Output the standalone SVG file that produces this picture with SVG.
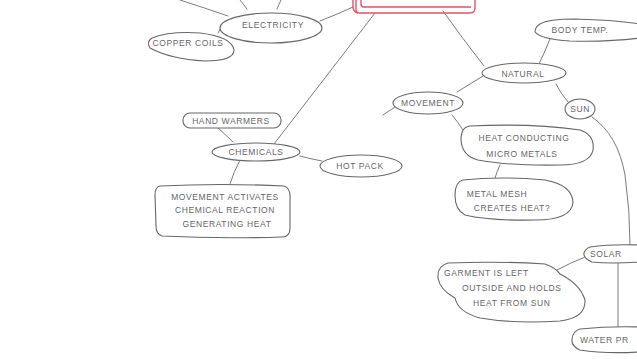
<svg xmlns="http://www.w3.org/2000/svg" width="637" height="359" viewBox="0 0 637 359">
<style>
.ln{fill:none;stroke:#7c7c7c;stroke-width:1;stroke-linecap:round;stroke-linejoin:round}
.nd{fill:#ffffff;stroke:#676767;stroke-width:1.1}
.tx{font-family:"Liberation Sans",Arial,sans-serif;font-size:8.5px;fill:#666;letter-spacing:0.6px;text-anchor:middle}
.txl{font-family:"Liberation Sans",Arial,sans-serif;font-size:8.5px;fill:#666;letter-spacing:0.6px}
.red{fill:none;stroke:#e8506a;stroke-width:1.4}
</style>
<rect width="637" height="359" fill="#ffffff"/>
<g id="connectors">
<path class="ln" d="M180,0 Q205,8 228,16"/>
<path class="ln" d="M240,0 Q244,5 247,9"/>
<path class="ln" d="M281,0 Q279,4 277,9"/>
<path class="ln" d="M320,21 Q338,14 353,7"/>
<path class="ln" d="M223,25 Q220,29 218,33"/>
<path class="ln" d="M375,13 L274,144"/>
<path class="ln" d="M443,11 Q462,38 484,66"/>
<path class="ln" d="M550,39 Q544,54 538,66"/>
<path class="ln" d="M556,84 Q561,94 568,102"/>
<path class="ln" d="M592,117 Q618,135 625,175 Q630,210 630,245"/>
<path class="ln" d="M483,76 Q470,84 457,92"/>
<path class="ln" d="M395,107 Q389,111 383,115"/>
<path class="ln" d="M452,115 Q458,122 463,130"/>
<path class="ln" d="M500,165 Q497,171 495,178"/>
<path class="ln" d="M585,257 Q570,263 557,270"/>
<path class="ln" d="M618,262 L618,328"/>
<path class="ln" d="M218,128 Q226,135 233,142"/>
<path class="ln" d="M300,156 Q311,159 322,161"/>
<path class="ln" d="M240,160 Q234,171 230,184"/>
</g>
<g id="main">
<path class="red" d="M356,-5 L356,10 Q356,13 360,13 L470,13 Q475,13 475,8 L475,-5"/>
<path class="red" d="M361,-5 L361,4 Q361,7 364,7 L471,7"/>
<path class="red" d="M353,0 L353,8 Q354,12 358,13"/>
</g>
<g id="electricity">
<ellipse class="nd" cx="271" cy="28" rx="51" ry="15"/>
<text class="tx" x="273" y="28">ELECTRICITY</text>
</g>
<g id="copper-coils">
<path class="nd" d="M152,38 Q170,31 200,33 Q232,37 234,50 Q234,61 205,61 Q170,59 150,48 Q146,42 152,38 Z"/>
<text class="tx" x="188" y="46">COPPER COILS</text>
</g>
<g id="hand-warmers">
<rect class="nd" x="183" y="113" width="98" height="15" rx="7"/>
<text class="tx" x="231" y="123.5">HAND WARMERS</text>
</g>
<g id="chemicals">
<ellipse class="nd" cx="256" cy="152" rx="44" ry="9"/>
<text class="tx" x="256" y="155">CHEMICALS</text>
</g>
<g id="hot-pack">
<ellipse class="nd" cx="361" cy="166" rx="41" ry="11"/>
<text class="tx" x="360" y="169">HOT PACK</text>
</g>
<g id="movement-activates">
<path class="nd" d="M160,186 Q220,183 284,186 Q291,188 290,200 L290,228 Q290,237 282,237 Q220,239 162,236 Q156,234 156,226 L155,195 Q155,187 160,186 Z"/>
<text class="tx" x="225" y="200">MOVEMENT ACTIVATES</text>
<text class="tx" x="225" y="213">CHEMICAL REACTION</text>
<text class="tx" x="227" y="227">GENERATING HEAT</text>
</g>
<g id="body-temp">
<path class="nd" d="M540,24 Q548,19 575,19 Q615,20 640,24 L640,38 Q610,42 570,41 Q540,39 535,32 Q535,27 540,24 Z"/>
<text class="tx" x="580" y="33">BODY TEMP.</text>
</g>
<g id="natural">
<ellipse class="nd" cx="524" cy="73" rx="42" ry="10"/>
<text class="tx" x="523" y="76.5">NATURAL</text>
</g>
<g id="sun">
<ellipse class="nd" cx="580" cy="109" rx="15" ry="10"/>
<text class="tx" x="580" y="112">SUN</text>
</g>
<g id="movement">
<ellipse class="nd" cx="428" cy="103" rx="35" ry="11"/>
<text class="tx" x="428" y="106">MOVEMENT</text>
</g>
<g id="heat-conducting">
<path class="nd" d="M470,126 Q530,123 580,130 Q595,135 593,150 Q590,165 560,165 Q510,166 478,160 Q462,156 461,140 Q461,127 470,126 Z"/>
<text class="tx" x="524" y="141">HEAT CONDUCTING</text>
<text class="tx" x="522" y="157">MICRO METALS</text>
</g>
<g id="metal-mesh">
<path class="nd" d="M463,180 Q500,176 545,180 Q572,185 573,202 Q572,220 535,220 Q490,221 465,215 Q455,210 455,195 Q455,182 463,180 Z"/>
<text class="tx" x="497" y="197">METAL MESH</text>
<text class="tx" x="512" y="211">CREATES HEAT?</text>
</g>
<g id="solar">
<path class="nd" d="M590,247 Q610,244 640,245 L640,262 Q610,264 592,262 Q583,258 584,253 Q585,249 590,247 Z"/>
<text class="txl" x="590" y="257">SOLAR</text>
</g>
<g id="garment">
<path class="nd" d="M448,263 Q500,261 545,264 Q556,268 560,274 Q580,284 585,300 Q586,318 560,321 Q515,324 480,318 Q458,312 455,298 Q440,290 438,278 Q437,266 448,263 Z"/>
<text class="txl" x="444" y="276">GARMENT IS LEFT</text>
<text class="txl" x="462" y="291">OUTSIDE AND HOLDS</text>
<text class="txl" x="473" y="306">HEAT FROM SUN</text>
</g>
<g id="water">
<path class="nd" d="M580,329 Q610,326 640,327 L640,352 Q605,354 580,350 Q571,346 572,339 Q573,331 580,329 Z"/>
<text class="txl" x="580" y="343">WATER PR</text>
</g>
</svg>
